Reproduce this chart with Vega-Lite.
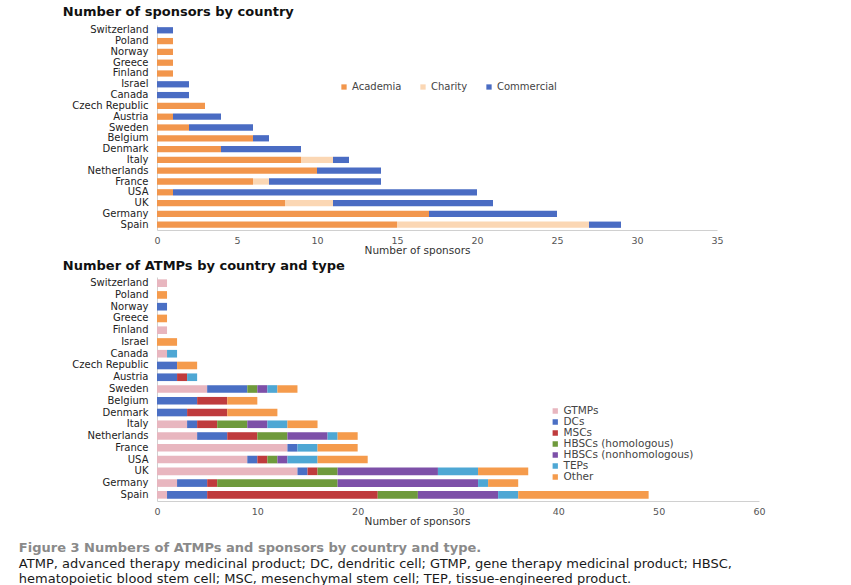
{
  "$schema": "https://vega.github.io/schema/vega-lite/v6.json",
  "background": "white",
  "padding": {"left": 18, "top": 5, "right": 5, "bottom": 0},
  "spacing": 4,
  "config": {
    "font": "DejaVu Sans",
    "view": {"stroke": null},
    "axis": {"grid": false, "ticks": false, "domainColor": "#d0d0d0", "domainWidth": 1, "labelFlush": false}
  },
  "title": {
    "text": "Figure 3  Numbers of ATMPs and sponsors by country and type.",
    "subtitle": [
      "ATMP, advanced therapy medicinal product; DC, dendritic cell; GTMP, gene therapy medicinal product; HBSC,",
      "hematopoietic blood stem cell; MSC, mesenchymal stem cell; TEP, tissue-engineered product."
    ],
    "orient": "bottom",
    "anchor": "start",
    "frame": "bounds",
    "dx": -44,
    "offset": 15,
    "font": "DejaVu Sans",
    "fontSize": 13,
    "fontWeight": "bold",
    "color": "#8a8a8a",
    "subtitleFont": "DejaVu Sans",
    "subtitleFontSize": 13,
    "subtitleColor": "#1a1a1a",
    "subtitlePadding": 3
  },
  "resolve": {"scale": {"color": "independent"}, "legend": {"color": "independent"}},
  "vconcat": [
    {
      "title": {"text": "Number of sponsors by country", "anchor": "start", "frame": "bounds", "fontSize": 13, "fontWeight": "bold", "color": "#111", "offset": 6, "dx": -9},
      "width": 560,
      "height": 205,
      "data": {"values": [
        {"country": "Switzerland", "source": "Commercial", "sponsors": 1},
        {"country": "Poland", "source": "Academia", "sponsors": 1},
        {"country": "Norway", "source": "Academia", "sponsors": 1},
        {"country": "Greece", "source": "Academia", "sponsors": 1},
        {"country": "Finland", "source": "Academia", "sponsors": 1},
        {"country": "Israel", "source": "Commercial", "sponsors": 2},
        {"country": "Canada", "source": "Commercial", "sponsors": 2},
        {"country": "Czech Republic", "source": "Academia", "sponsors": 3},
        {"country": "Austria", "source": "Academia", "sponsors": 1},
        {"country": "Austria", "source": "Commercial", "sponsors": 3},
        {"country": "Sweden", "source": "Academia", "sponsors": 2},
        {"country": "Sweden", "source": "Commercial", "sponsors": 4},
        {"country": "Belgium", "source": "Academia", "sponsors": 6},
        {"country": "Belgium", "source": "Commercial", "sponsors": 1},
        {"country": "Denmark", "source": "Academia", "sponsors": 4},
        {"country": "Denmark", "source": "Commercial", "sponsors": 5},
        {"country": "Italy", "source": "Academia", "sponsors": 9},
        {"country": "Italy", "source": "Charity", "sponsors": 2},
        {"country": "Italy", "source": "Commercial", "sponsors": 1},
        {"country": "Netherlands", "source": "Academia", "sponsors": 10},
        {"country": "Netherlands", "source": "Commercial", "sponsors": 4},
        {"country": "France", "source": "Academia", "sponsors": 6},
        {"country": "France", "source": "Charity", "sponsors": 1},
        {"country": "France", "source": "Commercial", "sponsors": 7},
        {"country": "USA", "source": "Academia", "sponsors": 1},
        {"country": "USA", "source": "Commercial", "sponsors": 19},
        {"country": "UK", "source": "Academia", "sponsors": 8},
        {"country": "UK", "source": "Charity", "sponsors": 3},
        {"country": "UK", "source": "Commercial", "sponsors": 10},
        {"country": "Germany", "source": "Academia", "sponsors": 17},
        {"country": "Germany", "source": "Commercial", "sponsors": 8},
        {"country": "Spain", "source": "Academia", "sponsors": 15},
        {"country": "Spain", "source": "Charity", "sponsors": 12},
        {"country": "Spain", "source": "Commercial", "sponsors": 2}
      ]},
      "mark": {"type": "bar"},
      "encoding": {
        "y": {
          "field": "country", "type": "nominal",
          "sort": ["Switzerland", "Poland", "Norway", "Greece", "Finland", "Israel", "Canada", "Czech Republic", "Austria", "Sweden", "Belgium", "Denmark", "Italy", "Netherlands", "France", "USA", "UK", "Germany", "Spain"],
          "scale": {"paddingInner": 0.42, "paddingOuter": 0.2},
          "axis": {"title": null, "labelPadding": 9, "labelFontSize": 10, "labelColor": "#222"}
        },
        "x": {
          "field": "sponsors", "type": "quantitative",
          "scale": {"domain": [0, 35], "nice": false},
          "axis": {"values": [0, 5, 10, 15, 20, 25, 30, 35], "title": "Number of sponsors", "titleFontSize": 10.5, "titleFontWeight": "normal", "titleColor": "#333", "titleX": 260, "titlePadding": 1, "labelFontSize": 9.5, "labelColor": "#555", "labelPadding": 5}
        },
        "color": {
          "field": "source", "type": "nominal",
          "scale": {"domain": ["Academia", "Charity", "Commercial"], "range": ["#f2964c", "#fbd7b4", "#4a6cc3"]},
          "legend": {"title": null, "orient": "none", "direction": "horizontal", "legendX": 182, "legendY": 57, "symbolType": "square", "symbolSize": 28, "symbolStrokeWidth": 0, "labelFontSize": 10, "labelColor": "#444", "columnPadding": 16, "labelOffset": 3}
        },
        "order": {"field": "source", "type": "nominal"}
      }
    },
    {
      "title": {"text": "Number of ATMPs by country and type", "anchor": "start", "frame": "bounds", "fontSize": 13, "fontWeight": "bold", "color": "#111", "offset": 4, "dx": -9},
      "width": 602,
      "height": 224,
      "data": {"values": [
        {"country": "Switzerland", "type": "GTMPs", "atmps": 1},
        {"country": "Poland", "type": "Other", "atmps": 1},
        {"country": "Norway", "type": "DCs", "atmps": 1},
        {"country": "Greece", "type": "Other", "atmps": 1},
        {"country": "Finland", "type": "GTMPs", "atmps": 1},
        {"country": "Israel", "type": "Other", "atmps": 2},
        {"country": "Canada", "type": "GTMPs", "atmps": 1},
        {"country": "Canada", "type": "TEPs", "atmps": 1},
        {"country": "Czech Republic", "type": "DCs", "atmps": 2},
        {"country": "Czech Republic", "type": "Other", "atmps": 2},
        {"country": "Austria", "type": "DCs", "atmps": 2},
        {"country": "Austria", "type": "MSCs", "atmps": 1},
        {"country": "Austria", "type": "TEPs", "atmps": 1},
        {"country": "Sweden", "type": "GTMPs", "atmps": 5},
        {"country": "Sweden", "type": "DCs", "atmps": 4},
        {"country": "Sweden", "type": "HBSCs (homologous)", "atmps": 1},
        {"country": "Sweden", "type": "HBSCs (nonhomologous)", "atmps": 1},
        {"country": "Sweden", "type": "TEPs", "atmps": 1},
        {"country": "Sweden", "type": "Other", "atmps": 2},
        {"country": "Belgium", "type": "DCs", "atmps": 4},
        {"country": "Belgium", "type": "MSCs", "atmps": 3},
        {"country": "Belgium", "type": "Other", "atmps": 3},
        {"country": "Denmark", "type": "DCs", "atmps": 3},
        {"country": "Denmark", "type": "MSCs", "atmps": 4},
        {"country": "Denmark", "type": "Other", "atmps": 5},
        {"country": "Italy", "type": "GTMPs", "atmps": 3},
        {"country": "Italy", "type": "DCs", "atmps": 1},
        {"country": "Italy", "type": "MSCs", "atmps": 2},
        {"country": "Italy", "type": "HBSCs (homologous)", "atmps": 3},
        {"country": "Italy", "type": "HBSCs (nonhomologous)", "atmps": 2},
        {"country": "Italy", "type": "TEPs", "atmps": 2},
        {"country": "Italy", "type": "Other", "atmps": 3},
        {"country": "Netherlands", "type": "GTMPs", "atmps": 4},
        {"country": "Netherlands", "type": "DCs", "atmps": 3},
        {"country": "Netherlands", "type": "MSCs", "atmps": 3},
        {"country": "Netherlands", "type": "HBSCs (homologous)", "atmps": 3},
        {"country": "Netherlands", "type": "HBSCs (nonhomologous)", "atmps": 4},
        {"country": "Netherlands", "type": "TEPs", "atmps": 1},
        {"country": "Netherlands", "type": "Other", "atmps": 2},
        {"country": "France", "type": "GTMPs", "atmps": 13},
        {"country": "France", "type": "DCs", "atmps": 1},
        {"country": "France", "type": "TEPs", "atmps": 2},
        {"country": "France", "type": "Other", "atmps": 4},
        {"country": "USA", "type": "GTMPs", "atmps": 9},
        {"country": "USA", "type": "DCs", "atmps": 1},
        {"country": "USA", "type": "MSCs", "atmps": 1},
        {"country": "USA", "type": "HBSCs (homologous)", "atmps": 1},
        {"country": "USA", "type": "HBSCs (nonhomologous)", "atmps": 1},
        {"country": "USA", "type": "TEPs", "atmps": 3},
        {"country": "USA", "type": "Other", "atmps": 5},
        {"country": "UK", "type": "GTMPs", "atmps": 14},
        {"country": "UK", "type": "DCs", "atmps": 1},
        {"country": "UK", "type": "MSCs", "atmps": 1},
        {"country": "UK", "type": "HBSCs (homologous)", "atmps": 2},
        {"country": "UK", "type": "HBSCs (nonhomologous)", "atmps": 10},
        {"country": "UK", "type": "TEPs", "atmps": 4},
        {"country": "UK", "type": "Other", "atmps": 5},
        {"country": "Germany", "type": "GTMPs", "atmps": 2},
        {"country": "Germany", "type": "DCs", "atmps": 3},
        {"country": "Germany", "type": "MSCs", "atmps": 1},
        {"country": "Germany", "type": "HBSCs (homologous)", "atmps": 12},
        {"country": "Germany", "type": "HBSCs (nonhomologous)", "atmps": 14},
        {"country": "Germany", "type": "TEPs", "atmps": 1},
        {"country": "Germany", "type": "Other", "atmps": 3},
        {"country": "Spain", "type": "GTMPs", "atmps": 1},
        {"country": "Spain", "type": "DCs", "atmps": 4},
        {"country": "Spain", "type": "MSCs", "atmps": 17},
        {"country": "Spain", "type": "HBSCs (homologous)", "atmps": 4},
        {"country": "Spain", "type": "HBSCs (nonhomologous)", "atmps": 8},
        {"country": "Spain", "type": "TEPs", "atmps": 2},
        {"country": "Spain", "type": "Other", "atmps": 13}
      ]},
      "transform": [
        {"calculate": "indexof(['GTMPs', 'DCs', 'MSCs', 'HBSCs (homologous)', 'HBSCs (nonhomologous)', 'TEPs', 'Other'], datum.type)", "as": "typeOrder"}
      ],
      "mark": {"type": "bar"},
      "encoding": {
        "y": {
          "field": "country", "type": "nominal",
          "sort": ["Switzerland", "Poland", "Norway", "Greece", "Finland", "Israel", "Canada", "Czech Republic", "Austria", "Sweden", "Belgium", "Denmark", "Italy", "Netherlands", "France", "USA", "UK", "Germany", "Spain"],
          "scale": {"paddingInner": 0.35, "paddingOuter": 0.2},
          "axis": {"title": null, "labelPadding": 9, "labelFontSize": 10, "labelColor": "#222"}
        },
        "x": {
          "field": "atmps", "type": "quantitative",
          "scale": {"domain": [0, 60], "nice": false},
          "axis": {"values": [0, 10, 20, 30, 40, 50, 60], "title": "Number of sponsors", "titleFontSize": 10.5, "titleFontWeight": "normal", "titleColor": "#333", "titleX": 260, "titlePadding": 1, "labelFontSize": 9.5, "labelColor": "#555", "labelPadding": 5}
        },
        "color": {
          "field": "type", "type": "nominal",
          "scale": {"domain": ["GTMPs", "DCs", "MSCs", "HBSCs (homologous)", "HBSCs (nonhomologous)", "TEPs", "Other"], "range": ["#e8b6bf", "#4a6fc4", "#bf3b3d", "#6f9a3c", "#7d50a8", "#4ea7d4", "#f59b4c"]},
          "legend": {"title": null, "orient": "none", "direction": "vertical", "legendX": 393, "legendY": 129, "symbolType": "square", "symbolSize": 28, "symbolStrokeWidth": 0, "labelFontSize": 10.5, "labelColor": "#444", "rowPadding": 0, "clipHeight": 10, "labelOffset": 3}
        },
        "order": {"field": "typeOrder", "type": "quantitative"}
      }
    }
  ]
}
